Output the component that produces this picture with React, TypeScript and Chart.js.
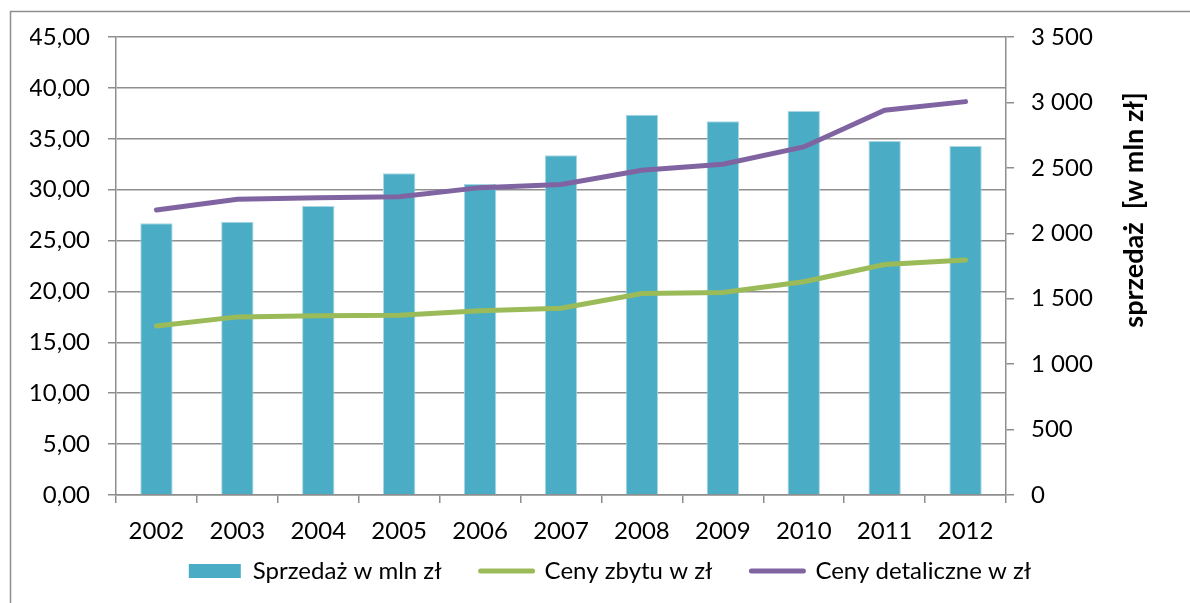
import React, { useEffect, useRef } from "react";
import { Chart, registerables } from "chart.js";

Chart.register(...registerables);

const years = ["2002", "2003", "2004", "2005", "2006", "2007", "2008", "2009", "2010", "2011", "2012"];
const salesMln = [2076, 2089, 2208, 2458, 2377, 2596, 2906, 2856, 2934, 2705, 2667];
const factoryPrices = [16.6, 17.5, 17.6, 17.65, 18.1, 18.35, 19.8, 19.9, 20.95, 22.65, 23.1];
const retailPrices = [28.0, 29.05, 29.2, 29.3, 30.2, 30.5, 31.9, 32.5, 34.2, 37.8, 38.65];
const seriesNames = ["Sprzedaż w mln zł", "Ceny zbytu w zł", "Ceny detaliczne w zł"];
const rightAxisTitle = "sprzedaż  [w mln zł]";

const FONT = "Lato";
const FS = 24;
const GRID = "#8e8e8e";

export default function App() {
  const ref = useRef<HTMLCanvasElement | null>(null);
  useEffect(() => {
    const canvas = ref.current;
    if (!canvas) return;
    const framePlugin = {
      id: "frame",
      afterLayout(chart: any) {
        const lg = chart.legend;
        if (lg) {
          lg.top -= 25;
          lg.bottom -= 25;
        }
      },
      beforeDraw(chart: any) {
        const ctx = chart.ctx;
        ctx.save();
        ctx.strokeStyle = GRID;
        ctx.lineWidth = 1.5;
        ctx.beginPath();
        ctx.moveTo(10.5, 620);
        ctx.lineTo(10.5, 11.5);
        ctx.lineTo(1200, 11.5);
        ctx.stroke();
        ctx.restore();
      },
      afterDraw(chart: any) {
        const ctx = chart.ctx;
        ctx.save();
        ctx.translate(1134, 210);
        ctx.rotate(-Math.PI / 2);
        ctx.font = `bold 27px ${FONT}`;
        ctx.fillStyle = "#000";
        ctx.textAlign = "center";
        ctx.textBaseline = "middle";
        ctx.fillText(rightAxisTitle, 0, 0);
        ctx.restore();
      },
    };
    const chart = new Chart(canvas, {
      type: "bar",
      data: {
        labels: years,
        datasets: [
          {
            type: "bar",
            label: seriesNames[0],
            data: salesMln,
            yAxisID: "y1",
            backgroundColor: "#4BACC6",
            borderColor: "#a9d6e3",
            borderWidth: 1,
            barPercentage: 0.4,
            categoryPercentage: 1,
            order: 2,
          },
          {
            type: "line",
            label: seriesNames[1],
            data: factoryPrices,
            yAxisID: "y",
            borderColor: "#9BBB59",
            backgroundColor: "#9BBB59",
            borderWidth: 5,
            pointRadius: 0,
            tension: 0,
            borderCapStyle: "round",
            order: 1,
          },
          {
            type: "line",
            label: seriesNames[2],
            data: retailPrices,
            yAxisID: "y",
            borderColor: "#8064A2",
            backgroundColor: "#8064A2",
            borderWidth: 5,
            pointRadius: 0,
            tension: 0,
            borderCapStyle: "round",
            order: 0,
          },
        ],
      },
      options: {
        animation: false,
        responsive: false,
        maintainAspectRatio: false,
        layout: { padding: { left: 30, right: 0, top: 37, bottom: -15 } },
        font: { family: FONT, size: FS },
        plugins: {
          tooltip: { enabled: false },
          legend: {
            position: "bottom",
            labels: {
              color: "#000",
              font: { family: FONT, size: FS },
              usePointStyle: true,
              pointStyleWidth: 52,
              boxHeight: 14,
              padding: 39,
              sort: (a: any, b: any) => a.datasetIndex - b.datasetIndex,
              generateLabels: (ch: any) => {
                const items = Chart.defaults.plugins.legend.labels.generateLabels(ch);
                return items.map((it: any) => {
                  const ds = ch.data.datasets[it.datasetIndex];
                  if (ds.type === "line") {
                    it.pointStyle = "line";
                    it.lineWidth = 5;
                    it.strokeStyle = ds.borderColor;
                    it.lineCap = "round";
                  } else {
                    it.pointStyle = "rect";
                    it.lineWidth = 0;
                    it.fillStyle = ds.backgroundColor;
                  }
                  return it;
                });
              },
            },
          },
        },
        scales: {
          x: {
            offset: true,
            grid: { offset: true, drawOnChartArea: false, drawTicks: true, tickLength: 8, color: GRID, lineWidth: 1.5 },
            border: { color: GRID, width: 1.5 },
            ticks: { color: "#000", font: { family: FONT, size: FS }, padding: 14, maxRotation: 0 },
            afterFit: (s: any) => { s.height = 50; },
          },
          y: {
            position: "left",
            min: 0,
            max: 45,
            ticks: {
              stepSize: 5,
              color: "#000",
              padding: 18,
              font: { family: FONT, size: FS },
              callback: (v: any) => Number(v).toFixed(2).replace(".", ","),
            },
            grid: { color: GRID, lineWidth: 1.5, tickLength: 8 },
            border: { color: GRID, width: 1.5 },
            afterFit: (s: any) => { s.width = 86; },
          },
          y1: {
            position: "right",
            min: 0,
            max: 3500,
            ticks: {
              stepSize: 500,
              color: "#000",
              padding: 17,
              font: { family: FONT, size: FS },
              callback: (v: any) => {
                const n = Number(v);
                if (n >= 1000) return `${Math.floor(n / 1000)} ${String(n % 1000).padStart(3, "0")}`;
                return String(n);
              },
            },
            grid: { drawOnChartArea: false, color: GRID, lineWidth: 1.5, tickLength: 8 },
            border: { color: GRID, width: 1.5 },
            afterFit: (s: any) => { s.width = 184; },
          },
        },
      },
      plugins: [framePlugin],
    });
    return () => chart.destroy();
  }, []);
  return (
    <div style={{ position: "fixed", left: 0, top: 0, width: 1190, height: 603, background: "#fff" }}>
      <canvas ref={ref} width={1190} height={603} style={{ display: "block", width: 1190, height: 603 }} />
    </div>
  );
}
